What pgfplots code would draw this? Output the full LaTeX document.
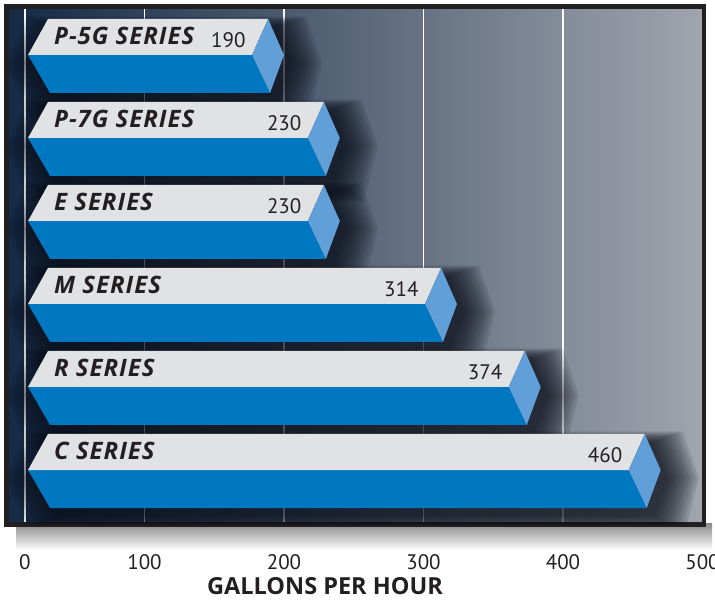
\documentclass[border=0pt]{standalone}
\usepackage{fontspec}
\setmainfont{PT Sans}
\newfontfamily\opensans{Open Sans}
\newfontfamily\opensansL[LetterSpace=4]{Open Sans}
\usepackage{pgfplots}
\pgfplotsset{compat=1.18}
\definecolor{barblue}{RGB}{0,119,193}
\definecolor{topgray}{RGB}{225,226,228}
\definecolor{capblue}{RGB}{96,159,215}
\definecolor{framec}{RGB}{35,31,32}
\definecolor{bgL}{RGB}{20,42,70}
\definecolor{bgR}{RGB}{160,165,174}
\definecolor{shadowc}{RGB}{8,12,22}
\definecolor{txt}{RGB}{35,31,32}
\newcommand\labfont{\opensansL\fontsize{24}{24}\selectfont\bfseries\itshape}
\newcommand\valfont{\fontsize{21}{21}\selectfont}
% bar data: value, row, label
\newcommand\bardata{%
 \B{190}{0}{P-5G SERIES}%
 \B{230}{1}{P-7G SERIES}%
 \B{230}{2}{E SERIES}%
 \B{314}{3}{M SERIES}%
 \B{374}{4}{R SERIES}%
 \B{460}{5}{C SERIES}%
}
\newcommand\shlayer[3]{% value, row, expansion (px)
 \pgfmathsetmacro\sR{(8+#3)/1.395}%
 \pgfmathsetmacro\sL{(8-#3)/1.395}%
 \pgfmathsetmacro\xa{30.8+\sL}%
 \pgfmathsetmacro\xb{#1-1.4+\sR}%
 \pgfmathsetmacro\xc{#1+10+\sR}%
 \pgfmathsetmacro\xd{#1+\sR}%
 \pgfmathsetmacro\xe{32.3+\sL}%
 \pgfmathsetmacro\xf{16.5+\sL}%
 \pgfmathsetmacro\yT{581-83*#2-8+0.35*#3}%
 \pgfmathsetmacro\yM{581-83*#2-44}%
 \pgfmathsetmacro\yB{581-83*#2-82-0.6*#3}%
 \addplot[draw=none, fill=shadowc, fill opacity=0.11] coordinates {(\xa,\yT) (\xb,\yT) (\xc,\yM) (\xd,\yB) (\xe,\yB) (\xf,\yM)} --cycle;
}
\newcommand\hexshadow[3]{%
 \shlayer{#1}{#2}{0}\shlayer{#1}{#2}{3}\shlayer{#1}{#2}{6}\shlayer{#1}{#2}{9}%
 \shlayer{#1}{#2}{12}\shlayer{#1}{#2}{15}\shlayer{#1}{#2}{18}\shlayer{#1}{#2}{21}%
 \shlayer{#1}{#2}{24}\shlayer{#1}{#2}{27}\shlayer{#1}{#2}{30}%
}
\newcommand\hexbar[3]{%
 \pgfmathsetmacro\vT{#1-1.4}%
 \pgfmathsetmacro\vM{#1-12.9}%
 \pgfmathsetmacro\vP{#1+10}%
 \pgfmathsetmacro\vL{#1-17.4}%
 \pgfmathsetmacro\yT{581-83*#2}%
 \pgfmathsetmacro\yM{\yT-36}%
 \pgfmathsetmacro\yB{\yT-74}%
 \pgfmathsetmacro\yL{\yT-26}%
 \pgfmathsetmacro\yV{\yT-29}%
 \addplot[draw=none, fill=barblue] coordinates {(16.5,\yM) (\vM,\yM) (#1,\yB) (32.3,\yB)} --cycle;
 \addplot[draw=none, fill=topgray] coordinates {(30.8,\yT) (\vT,\yT) (\vM,\yM) (16.5,\yM)} --cycle;
 \addplot[draw=none, fill=capblue] coordinates {(\vT,\yT) (\vP,\yM) (#1,\yB) (\vM,\yM)} --cycle;
 \edef\tmp{\noexpand\node[anchor=base west, inner sep=0pt, text=txt] at (axis cs:35.1,\yL) {\noexpand\labfont #3};
   \noexpand\node[anchor=base east, inner sep=0pt, text=txt] at (axis cs:\vL,\yV) {\noexpand\valfont #1};}\tmp
}
\begin{document}
\begin{tikzpicture}[x=1pt,y=1pt]
\shade[top color=black!45, bottom color=white] (16,50) rectangle (712,76);
\begin{axis}[
 scale only axis, width=697.5pt, height=518pt,
 at={(6.5pt,75.5pt)}, anchor=south west,
 xmin=1.075, xmax=501.08, ymin=75.5, ymax=593.5,
 axis background/.style={left color=bgL, right color=bgR},
 axis line style={line width=4.5pt, draw=framec},
 xtick={14.3,100,200,300,400,500}, xticklabels={0,100,200,300,400,500}, ytick=\empty,
 xmajorgrids,
 major grid style={white, line width=1.2pt},
 major tick length=0pt,
 xticklabel style={font=\valfont, text=txt, inner sep=0pt, anchor=north, yshift=-30pt},
 /pgf/number format/assume math mode=true,
 clip=true,
]
\let\B\hexshadow \bardata
\let\B\hexbar \bardata
\end{axis}
\node[inner sep=0pt, text=txt] at (325,13.5) {\opensans\fontsize{23.5}{23.5}\selectfont\bfseries GALLONS PER HOUR};
\pgfresetboundingbox
\useasboundingbox (0,0) rectangle (715,600);
\end{tikzpicture}
\end{document}
